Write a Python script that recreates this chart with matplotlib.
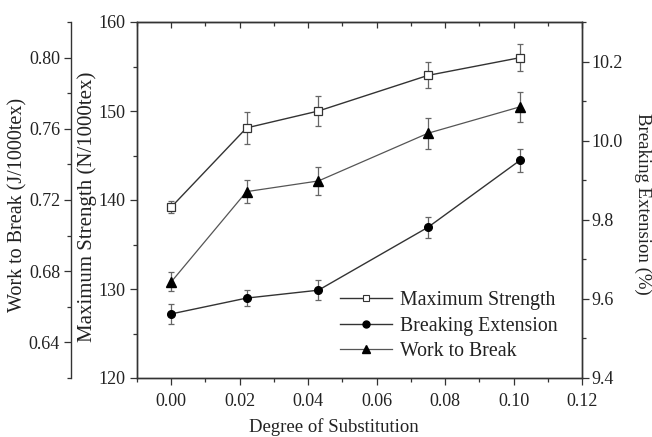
import matplotlib
matplotlib.use("Agg")
import matplotlib.pyplot as plt
from matplotlib.ticker import MultipleLocator
from matplotlib.lines import Line2D

plt.rcParams['font.family'] = ['Liberation Serif', 'DejaVu Serif']

ds = [0.000, 0.022, 0.043, 0.075, 0.102]
strength = [139.2, 148.1, 150.0, 154.0, 156.0]
strength_err = [0.7, 1.8, 1.65, 1.45, 1.55]
extension = [9.562, 9.602, 9.622, 9.781, 9.951]
extension_err = [0.025, 0.020, 0.026, 0.026, 0.029]
work = [0.674, 0.7247, 0.7307, 0.7575, 0.7724]
work_err = [0.0054, 0.0065, 0.008, 0.0086, 0.0083]

labels = ['Maximum Strength', 'Breaking Extension', 'Work to Break']
xlabel = 'Degree of Substitution'
ylabel_strength = 'Maximum Strength (N/1000tex)'
ylabel_work = 'Work to Break (J/1000tex)'
ylabel_ext = 'Breaking Extension (%)'

FS = 13
fig = plt.figure(figsize=(6.52, 4.37), dpi=100)
ax = fig.add_axes([137/652, 1-378/437, 445/652, 356/437])
ax2 = ax.twinx()
ax3 = ax.twinx()

spine_col = '#333333'
line_dark = '#333333'
line_light = '#555555'
err_col = '#666666'
txt_col = '#222222'

# Maximum strength
ax.errorbar(ds, strength, yerr=strength_err, color=line_dark, lw=1.0,
            marker='s', ms=5.5, mfc='white', mec=line_dark, mew=0.9,
            ecolor=err_col, elinewidth=0.9, capsize=2.5, capthick=0.9, zorder=3)
# Breaking extension
ax2.errorbar(ds, extension, yerr=extension_err, color=line_dark, lw=1.0,
             marker='o', ms=5.5, mfc='black', mec='black',
             ecolor=err_col, elinewidth=0.9, capsize=2.5, capthick=0.9, zorder=3)
# Work to break
ax3.errorbar(ds, work, yerr=work_err, color=line_light, lw=0.9,
             marker='^', ms=7, mfc='black', mec='black',
             ecolor=err_col, elinewidth=0.9, capsize=2.5, capthick=0.9, zorder=3)

ax.set_xlim(-0.01, 0.12)
ax.set_ylim(120, 160)
ax2.set_ylim(9.4, 10.3)
ax3.set_ylim(0.62, 0.82)

ax.xaxis.set_major_locator(MultipleLocator(0.02))
ax.xaxis.set_minor_locator(MultipleLocator(0.01))
ax.yaxis.set_major_locator(MultipleLocator(10))
ax.yaxis.set_minor_locator(MultipleLocator(5))
ax2.yaxis.set_major_locator(MultipleLocator(0.2))
ax2.yaxis.set_minor_locator(MultipleLocator(0.1))
ax3.yaxis.set_major_locator(MultipleLocator(0.04))
ax3.yaxis.set_minor_locator(MultipleLocator(0.02))

ax.xaxis.set_major_formatter(plt.FormatStrFormatter('%.2f'))
ax2.yaxis.set_major_formatter(plt.FormatStrFormatter('%.1f'))
ax3.yaxis.set_major_formatter(plt.FormatStrFormatter('%.2f'))
ax.yaxis.set_major_formatter(plt.FormatStrFormatter('%d'))

for a in (ax, ax2, ax3):
    for s in a.spines.values():
        s.set_color(spine_col)
        s.set_linewidth(1.0)

ax.tick_params(axis='both', which='major', direction='out', length=5, width=0.9,
               colors=spine_col, labelsize=FS, labelcolor=txt_col)
ax.tick_params(axis='both', which='minor', direction='out', length=3, width=0.9,
               colors=spine_col)
ax.tick_params(axis='x', which='major', pad=6)
ax.tick_params(axis='y', which='major', pad=3)
ax.tick_params(axis='y', right=False)

top = ax.secondary_xaxis('top')
top.xaxis.set_major_locator(MultipleLocator(0.02))
top.xaxis.set_minor_locator(MultipleLocator(0.01))
top.tick_params(which='major', direction='in', length=4, width=0.9, colors=spine_col, labeltop=False)
top.tick_params(which='minor', direction='in', length=3, width=0.9, colors=spine_col)
top.spines['top'].set_color(spine_col)

ax2.tick_params(axis='y', which='major', direction='out', length=5, width=0.9,
                colors=spine_col, labelsize=FS, labelcolor=txt_col, pad=2)
ax2.tick_params(axis='y', which='minor', direction='out', length=3, width=0.9, colors=spine_col)

ax3.spines['left'].set_position(('axes', -0.148))
ax3.spines['left'].set_visible(True)
ax3.spines['right'].set_visible(False)
ax3.spines['top'].set_visible(False)
ax3.spines['bottom'].set_visible(False)
ax3.yaxis.set_ticks_position('left')
ax3.yaxis.set_label_position('left')
ax3.tick_params(axis='y', which='major', direction='out', length=5, width=0.9,
                colors=spine_col, labelsize=FS, labelcolor=txt_col, pad=3)
ax3.tick_params(axis='y', which='minor', direction='out', length=3, width=0.9, colors=spine_col)

ax.set_xlabel(xlabel, fontsize=13.5, color=txt_col)
ax.xaxis.set_label_coords(0.443, -0.112)
ax.set_ylabel(ylabel_strength, fontsize=15, color=txt_col)
ax.yaxis.set_label_coords(-0.09, 0.48)
ax3.set_ylabel(ylabel_work, fontsize=14.5, color=txt_col)
ax3.yaxis.set_label_coords(-0.245, 0.485)
ax2.set_ylabel(ylabel_ext, fontsize=13.5, color=txt_col, rotation=-90)
ax2.yaxis.set_label_coords(1.155, 0.49)

handles = [
    Line2D([], [], color=line_dark, lw=1.0, marker='s', ms=4, mfc='white', mec=line_dark, mew=0.8),
    Line2D([], [], color=line_dark, lw=1.0, marker='o', ms=5, mfc='black', mec='black'),
    Line2D([], [], color=line_light, lw=0.9, marker='^', ms=6, mfc='black', mec='black'),
]
leg = ax3.legend(handles, labels, loc='center left',
                 bbox_to_anchor=(340/652, 1-326/437), bbox_transform=fig.transFigure,
                 frameon=False, fontsize=14.3, handlelength=2.6, handletextpad=0.4,
                 labelspacing=0.32, borderpad=0, borderaxespad=0)
for t in leg.get_texts():
    t.set_color(txt_col)

fig.savefig('out.png', dpi=100)
